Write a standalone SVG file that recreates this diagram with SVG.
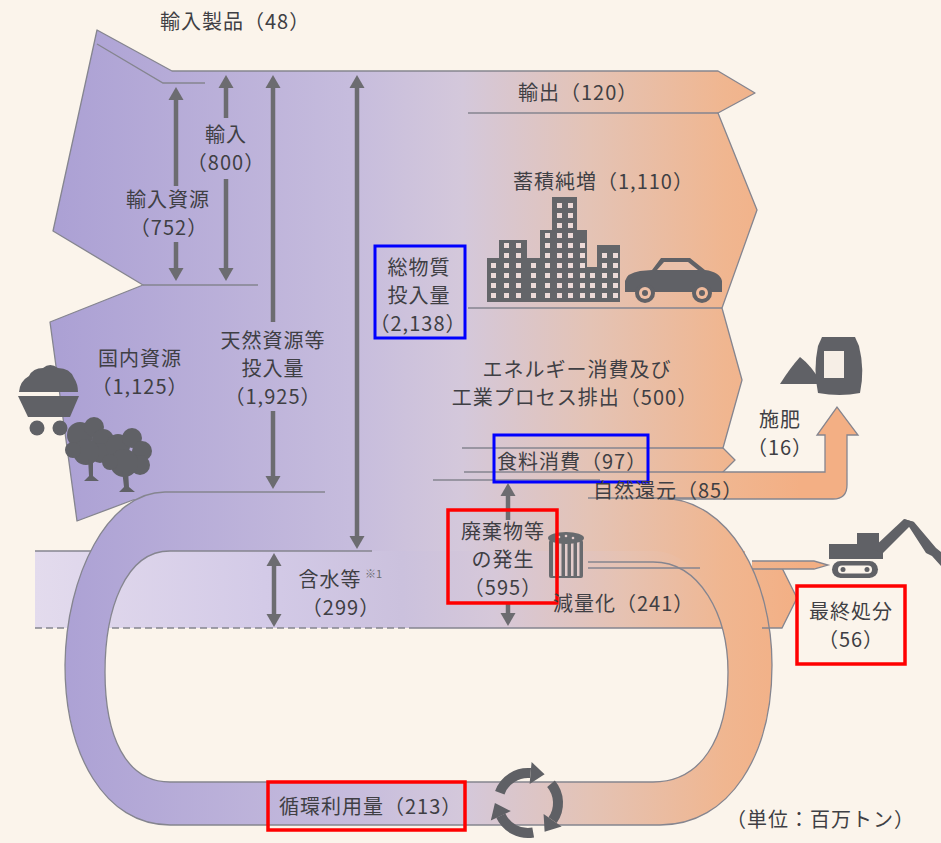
<svg xmlns="http://www.w3.org/2000/svg" width="941" height="843" viewBox="0 0 941 843">
  <style>
    .t { font-family: "Noto Sans CJK JP", "Noto Sans", sans-serif; font-size: 20px; letter-spacing: 1px; fill: #3f3f44; }
    .ln { fill: none; stroke: #85858f; stroke-width: 1.3; }
    .sh { stroke: #6c6c70; stroke-width: 4.5; }
    .ah { fill: #6c6c70; }
    .ic { fill: #606166; }
    .bld { fill: #646569; }
    .wcol { fill: url(#win); }
    .blue { fill: none; stroke: #0000ff; stroke-width: 3; }
    .red { fill: none; stroke: #ff0000; stroke-width: 3.5; }
  </style>
  <defs>
    <linearGradient id="flow" gradientUnits="userSpaceOnUse" x1="50" y1="0" x2="800" y2="0">
      <stop offset="0" stop-color="#ABA0D4"/>
      <stop offset="0.4" stop-color="#C6BCDD"/>
      <stop offset="0.55" stop-color="#D4C8DB"/>
      <stop offset="0.72" stop-color="#E4C3B5"/>
      <stop offset="0.9" stop-color="#F0B690"/>
      <stop offset="1" stop-color="#F3AF84"/>
    </linearGradient>
    <linearGradient id="band" gradientUnits="userSpaceOnUse" x1="35" y1="0" x2="800" y2="0">
      <stop offset="0" stop-color="#E3DBED"/>
      <stop offset="0.3" stop-color="#D3CAE7"/>
      <stop offset="0.48" stop-color="#CBC1DD"/>
      <stop offset="0.6" stop-color="#D6C8D9"/>
      <stop offset="0.77" stop-color="#E6C2B2"/>
      <stop offset="0.91" stop-color="#F0B690"/>
      <stop offset="1" stop-color="#F3AF84"/>
    </linearGradient>
    <!-- one window every 10px down a column of windows -->
    <pattern id="win" x="0" y="3" width="1" height="10" patternUnits="userSpaceOnUse">
      <rect width="1" height="10" fill="#646569"/>
      <rect width="1" height="5" fill="#EDDAD8"/>
    </pattern>
  </defs>

  <rect width="941" height="843" fill="#FBF4EB"/>

  <!-- water content band and reduction outlet -->
  <g id="band-water">
    <path d="M35,551 L745,551 L745,568 L782,568 L797,598 L782,628 L35,628 Z" fill="url(#band)"/>
    <path class="ln" d="M35,551 L100,551"/>
    <path class="ln" d="M35,628 L410,628" stroke-dasharray="7 4"/>
    <path class="ln" d="M410,628 L730,628"/>
  </g>

  <!-- main input / output body -->
  <g id="main-body">
    <path d="M97,30 L172,71 L718,71 L755,93 L718,113 L757,210 L722,308 L742,380 L723,448 L735,460 L723,472 L723,498 L660,498 L660,512 L133,500 L77,521 L50,322 L143,285 L53,231 Z" fill="url(#flow)" stroke="#85858f" stroke-width="1.3" stroke-linejoin="round"/>
  </g>

  <!-- recycling loop -->
  <g id="loop">
    <path fill-rule="evenodd" fill="url(#flow)" d="M165,492 L660,498 C730,498 772,580 772,665 C772,755 730,825 660,825 L170,825 C105,825 65,755 65,665 C66,575 108,492 165,492 Z M170,551 L653,551 C700,551 728,615 728,672 C728,740 700,782 653,782 L170,782 C125,782 105,735 105,672 C105,610 125,551 170,551 Z"/>
  </g>

  <!-- outlet shapes -->
  <g id="outlet-final">
    <path class="ln" d="M765,568 L782,568 L797,598 L782,628 L762,628"/>
    <path d="M752,561 L814,561 L828,565 L814,569 L752,569" fill="url(#flow)" stroke="#85858f" stroke-width="1.3"/>
  </g>
  <g id="outlet-nature">
    <path d="M700,472 L825,472 L825,435 L817,435 L837,407 L858,435 L847,435 L847,485 Q847,499 833,499 L700,499 Z" fill="url(#flow)"/>
    <path class="ln" d="M723,472 L825,472 L825,435 L817,435 L837,407 L858,435 L847,435 L847,485 Q847,499 833,499 L660,499"/>
  </g>

  <!-- connectors: dividing lines, loop outlines and quantity arrows -->
  <g id="connectors">
    <path class="ln" d="M97,44 L163,83 L205,83"/>
    <path class="ln" d="M143,285 L258,285"/>
    <path class="ln" d="M468,113 L718,113"/>
    <path class="ln" d="M468,308 L722,308"/>
    <path class="ln" d="M462,448 L723,448"/>
    <path class="ln" d="M464,472 L723,472"/>
    <path class="ln" d="M433,480 L600,480"/>
    <path class="ln" d="M588,568 L700,568"/>
    <path class="ln" d="M325,492 L165,492 C108,492 66,575 65,665 C65,755 105,825 170,825 L660,825 C730,825 772,755 772,665 C772,580 730,498 660,498 L588,498"/>
    <path class="ln" d="M372,551 L170,551 C125,551 105,610 105,672 C105,735 125,782 170,782 L653,782 C700,782 728,740 728,672 C728,615 700,562 653,562 L588,562"/>

    <!-- imported resources 752 -->
    <line class="sh" x1="176" y1="99" x2="176" y2="186"/>
    <line class="sh" x1="176" y1="242" x2="176" y2="269"/>
    <polygon class="ah" points="176,87 168.5,100 183.5,100"/>
    <polygon class="ah" points="176,281 168.5,268 183.5,268"/>
    <!-- imports 800 -->
    <line class="sh" x1="226" y1="87" x2="226" y2="118"/>
    <line class="sh" x1="226" y1="179" x2="226" y2="269"/>
    <polygon class="ah" points="226,75 218.5,88 233.5,88"/>
    <polygon class="ah" points="226,281 218.5,268 233.5,268"/>
    <!-- natural resource input 1,925 -->
    <line class="sh" x1="273" y1="87" x2="273" y2="322"/>
    <line class="sh" x1="273" y1="411" x2="273" y2="477"/>
    <polygon class="ah" points="273,75 265.5,88 280.5,88"/>
    <polygon class="ah" points="273,489 265.5,476 280.5,476"/>
    <!-- total material input 2,138 -->
    <line class="sh" x1="357" y1="87" x2="357" y2="537"/>
    <polygon class="ah" points="357,75 349.5,88 364.5,88"/>
    <polygon class="ah" points="357,549 349.5,536 364.5,536"/>
    <!-- water content 299 -->
    <line class="sh" x1="274" y1="565" x2="274" y2="615"/>
    <polygon class="ah" points="274,553 266.5,566 281.5,566"/>
    <polygon class="ah" points="274,627 266.5,614 281.5,614"/>
    <!-- waste generation 595 -->
    <line class="sh" x1="508" y1="495" x2="508" y2="520"/>
    <line class="sh" x1="508" y1="603" x2="508" y2="614"/>
    <polygon class="ah" points="508,483 500.5,496 515.5,496"/>
    <polygon class="ah" points="508,626 500.5,613 515.5,613"/>
  </g>

  <!-- icons -->
  <g id="icon-cart" class="ic">
    <path d="M19,392 Q20,381 29,376 Q33,368 43,368 Q50,362 58,368 Q70,368 74,378 Q78,384 78,392 Z"/>
    <polygon points="18,396 79,396 70,417 28,417"/>
    <circle cx="37" cy="428" r="7.5"/>
    <circle cx="60" cy="428" r="7.5"/>
  </g>
  <g id="icon-trees" class="ic">
    <circle cx="80" cy="435" r="13"/>
    <circle cx="94" cy="427" r="10"/>
    <circle cx="103" cy="440" r="11"/>
    <circle cx="100" cy="453" r="10"/>
    <circle cx="86" cy="452" r="13"/>
    <circle cx="73" cy="450" r="8"/>
    <path d="M88,458 L93,458 L93,476 L99,481 L84,481 L89,476 Z"/>
    <circle cx="118" cy="446" r="12"/>
    <circle cx="132" cy="438" r="10"/>
    <circle cx="142" cy="451" r="10"/>
    <circle cx="140" cy="465" r="10"/>
    <circle cx="124" cy="463" r="14"/>
    <circle cx="110" cy="462" r="8"/>
    <path d="M122,470 L128,470 L129,487 L135,492 L119,492 L124,487 Z"/>
  </g>
  <g id="icon-city">
    <rect class="bld" x="487" y="258" width="13" height="44"/>
    <rect class="bld" x="499" y="240" width="28" height="62"/>
    <rect class="bld" x="527" y="258" width="14" height="44"/>
    <rect class="bld" x="540" y="230" width="47" height="72"/>
    <rect class="bld" x="552" y="197" width="25" height="40"/>
    <rect class="bld" x="587" y="267" width="11" height="35"/>
    <rect class="bld" x="597" y="245" width="23" height="57"/>
    <rect class="wcol" x="491" y="263" width="5" height="35"/>
    <rect class="wcol" x="504" y="243" width="5" height="55"/>
    <rect class="wcol" x="516" y="243" width="5" height="55"/>
    <rect class="wcol" x="531" y="263" width="5" height="35"/>
    <rect class="wcol" x="545" y="233" width="5" height="65"/>
    <rect class="wcol" x="557" y="203" width="5" height="95"/>
    <rect class="wcol" x="568" y="203" width="5" height="95"/>
    <rect class="wcol" x="580" y="243" width="5" height="55"/>
    <rect class="wcol" x="590" y="273" width="5" height="25"/>
    <rect class="wcol" x="602" y="253" width="5" height="45"/>
    <rect class="wcol" x="613" y="253" width="5" height="45"/>
  </g>
  <g id="icon-car">
    <path class="ic" d="M625,292 L625,281 Q627,273 640,271 L652,270 L661,258 L690,258 L705,270 Q720,272 722,281 L722,292 Z"/>
    <path d="M657,270 L664,262 L688,262 L698,270 Z" fill="#EBC1AA"/>
    <circle class="ic" cx="645" cy="293" r="10"/>
    <circle class="ic" cx="702" cy="293" r="10"/>
    <circle cx="645" cy="293" r="6" fill="#EFC0A6"/>
    <circle cx="702" cy="293" r="6" fill="#F1BB9C"/>
    <circle class="ic" cx="645" cy="293" r="3"/>
    <circle class="ic" cx="702" cy="293" r="3"/>
  </g>
  <g id="icon-fertilizer" class="ic">
    <path d="M780,384 Q790,368 800,357 Q812,366 822,384 Z"/>
    <path d="M818,346 L822,337 L855,337 L859,346 Q865,370 860,393 Q840,397 818,393 Q813,370 818,346 Z"/>
    <rect x="824" y="351" width="20" height="27" fill="#F6EEE6"/>
  </g>
  <g id="icon-excavator" class="ic">
    <rect x="832" y="561" width="46" height="17" rx="8.5"/>
    <rect x="838" y="565.5" width="34" height="8" rx="4" fill="#FBF4EB"/>
    <circle cx="843" cy="569.5" r="2.5"/>
    <circle cx="867" cy="569.5" r="2.5"/>
    <rect x="829" y="544" width="54" height="15"/>
    <rect x="857" y="533" width="22" height="13"/>
    <path d="M872,549 L904,519 L914,522 L883,553 Z"/>
    <path d="M904,519 L914,522 L936,548 L941,552 L941,566 L932,556 L926,553 Z"/>
  </g>
  <g id="icon-bin">
    <rect x="549" y="540" width="34" height="38" rx="2" fill="#686a6e"/>
    <rect x="553" y="542" width="2.5" height="34" fill="#E3CCCB"/>
    <rect x="559" y="542" width="2.5" height="34" fill="#E3CCCB"/>
    <rect x="565" y="542" width="2.5" height="34" fill="#E3CCCB"/>
    <rect x="571" y="542" width="2.5" height="34" fill="#E3CCCB"/>
    <rect x="577" y="542" width="2.5" height="34" fill="#E3CCCB"/>
    <ellipse cx="566" cy="538" rx="18" ry="6" fill="#686a6e"/>
    <circle cx="559" cy="537" r="1.3" fill="#E3CCCB"/>
    <circle cx="566" cy="536" r="1.3" fill="#E3CCCB"/>
    <circle cx="573" cy="538" r="1.3" fill="#E3CCCB"/>
  </g>
  <g id="icon-recycle">
    <path d="M499.8,792.7 A30,30 0 0 1 530.6,773.1" fill="none" stroke="#5f6065" stroke-width="10"/>
    <polygon points="531.6,762.1 529.6,784.1 544.6,774.3" fill="#5f6065"/>
    <path d="M551.0,783.7 A30,30 0 0 1 552.6,820.2" fill="none" stroke="#5f6065" stroke-width="10"/>
    <polygon points="561.6,826.5 543.6,813.9 544.6,831.7" fill="#5f6065"/>
    <path d="M533.2,832.5 A30,30 0 0 1 500.8,815.7" fill="none" stroke="#5f6065" stroke-width="10"/>
    <polygon points="490.8,820.4 510.8,811.1 494.9,803.0" fill="#5f6065"/>
  </g>

  <!-- labels -->
  <g id="label-import-products"><text class="t" x="160" y="29">輸入製品（48）</text></g>
  <g id="label-export"><text class="t" x="518" y="100">輸出（120）</text></g>
  <g id="label-stock"><text class="t" x="513" y="189">蓄積純増（1,110）</text></g>
  <g id="label-import" text-anchor="middle">
    <text class="t" x="226" y="142">輸入</text>
    <text class="t" x="226" y="170">（800）</text>
  </g>
  <g id="label-import-resources" text-anchor="middle">
    <text class="t" x="168" y="207">輸入資源</text>
    <text class="t" x="169" y="235">（752）</text>
  </g>
  <g id="label-domestic" text-anchor="middle">
    <text class="t" x="140" y="366">国内資源</text>
    <text class="t" x="140" y="394">（1,125）</text>
  </g>
  <g id="label-natural" text-anchor="middle">
    <text class="t" x="273" y="348">天然資源等</text>
    <text class="t" x="273" y="376">投入量</text>
    <text class="t" x="273" y="404">（1,925）</text>
  </g>
  <g id="label-total" text-anchor="middle">
    <text class="t" x="419" y="275">総物質</text>
    <text class="t" x="419" y="303">投入量</text>
    <text class="t" x="418" y="331">（2,138）</text>
    <rect class="blue" x="375" y="246" width="90" height="92"/>
  </g>
  <g id="label-energy" text-anchor="middle">
    <text class="t" x="577" y="377">エネルギー消費及び</text>
    <text class="t" x="575" y="405">工業プロセス排出（500）</text>
  </g>
  <g id="label-food">
    <text class="t" x="497" y="469">食料消費（97）</text>
    <rect class="blue" x="494" y="435" width="154" height="47"/>
  </g>
  <g id="label-nature"><text class="t" x="593" y="498">自然還元（85）</text></g>
  <g id="label-fertilizer" text-anchor="middle">
    <text class="t" x="780" y="427">施肥</text>
    <text class="t" x="780" y="455">（16）</text>
  </g>
  <g id="label-waste" text-anchor="middle">
    <text class="t" x="503" y="539">廃棄物等</text>
    <text class="t" x="503" y="567">の発生</text>
    <text class="t" x="503" y="595">（595）</text>
    <rect class="red" x="448" y="510" width="109" height="93"/>
  </g>
  <g id="label-reduction"><text class="t" x="553" y="611">減量化（241）</text></g>
  <g id="label-water">
    <text class="t" x="330" y="587" text-anchor="middle">含水等</text>
    <text x="365" y="578" font-family="Noto Sans CJK JP, sans-serif" font-size="11" fill="#6b6b70">※1</text>
    <text class="t" x="341" y="615" text-anchor="middle">（299）</text>
  </g>
  <g id="label-final" text-anchor="middle">
    <text class="t" x="851" y="619">最終処分</text>
    <text class="t" x="851" y="647">（56）</text>
    <rect class="red" x="797" y="586" width="108" height="78"/>
  </g>
  <g id="label-recycle">
    <text class="t" x="279" y="814">循環利用量（213）</text>
    <rect class="red" x="268" y="782" width="197" height="48"/>
  </g>
  <g id="label-unit"><text class="t" x="726" y="827">（単位：百万トン）</text></g>
</svg>
